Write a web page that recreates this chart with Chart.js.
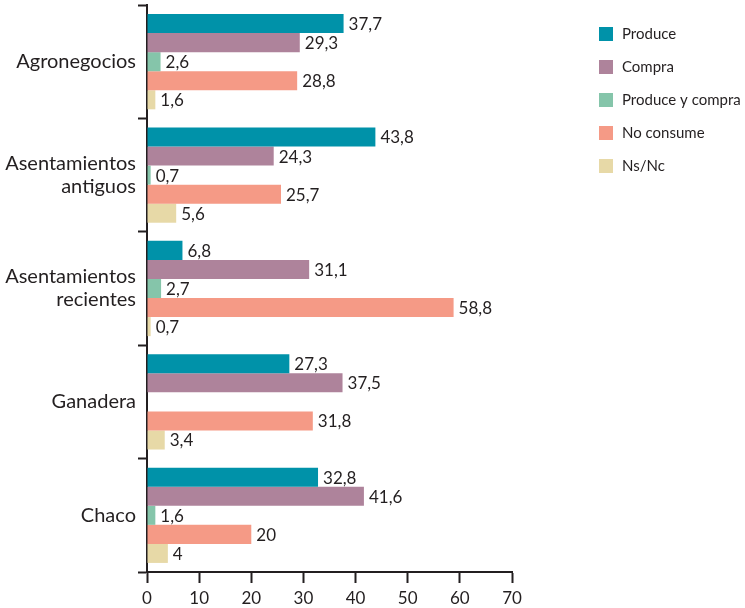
<!DOCTYPE html>
<html>
<head>
<meta charset="utf-8">
<script src="https://cdn.jsdelivr.net/npm/chart.js@4"></script>
<style>
  html, body { margin: 0; padding: 0; background: #fff; }
  #wrap { width: 745px; height: 608px; position: relative; }
</style>
</head>
<body>
<div id="wrap"><canvas id="grafico"></canvas></div>
<script>
const categorias = ['Agronegocios', ['Asentamientos', 'antiguos'], ['Asentamientos', 'recientes'], 'Ganadera', 'Chaco']
const series = ['Produce', 'Compra', 'Produce y compra', 'No consume', 'Ns/Nc']
const colores = ['#0092a9', '#ae839b', '#85c5aa', '#f59a86', '#e7d9a7']

const produce = [37.7, 43.8, 6.8, 27.3, 32.8]
const compra = [29.3, 24.3, 31.1, 37.5, 41.6]
const produceYCompra = [2.6, 0.7, 2.7, null, 1.6]
const noConsume = [28.8, 25.7, 58.8, 31.8, 20]
const nsNc = [1.6, 5.6, 0.7, 3.4, 4]

const ticksX = [0, 10, 20, 30, 40, 50, 60, 70]

const valores = [produce, compra, produceYCompra, noConsume, nsNc]
const colorTexto = '#231f20'
const fuente = 'Lato, "Noto Sans", sans-serif'

function formatear(v) {
  return String(v).replace('.', ',')
}

// etiquetas de valor al final de cada barra
const etiquetasPlugin = {
  id: 'etiquetas',
  afterDatasetsDraw(chart) {
    const ctx = chart.ctx
    ctx.save()
    ctx.font = `17px ${fuente}`
    ctx.fillStyle = colorTexto
    ctx.textBaseline = 'middle'
    ctx.textAlign = 'left'
    chart.data.datasets.forEach((ds, i) => {
      const meta = chart.getDatasetMeta(i)
      meta.data.forEach((bar, j) => {
        const v = ds.data[j]
        if (v === null || v === undefined) return
        ctx.fillText(formatear(v), bar.x + 5, bar.y + 1)
      })
    })
    ctx.restore()
  }
}

// leyenda a la derecha
const leyendaPlugin = {
  id: 'leyenda',
  afterDraw(chart) {
    const ctx = chart.ctx
    ctx.save()
    ctx.font = `15px ${fuente}`
    ctx.textBaseline = 'middle'
    chart.data.datasets.forEach((ds, i) => {
      const y = 34 + i * 33
      ctx.fillStyle = ds.backgroundColor
      ctx.fillRect(599, y - 7, 14, 14)
      ctx.fillStyle = colorTexto
      ctx.fillText(ds.label, 622, y)
    })
    ctx.restore()
  }
}

new Chart(document.getElementById('grafico'), {
  type: 'bar',
  data: {
    labels: categorias,
    datasets: series.map((nombre, i) => ({
      label: nombre,
      data: valores[i],
      backgroundColor: colores[i],
      borderWidth: 0,
      categoryPercentage: 0.84,
      barPercentage: 1
    }))
  },
  options: {
    indexAxis: 'y',
    responsive: true,
    maintainAspectRatio: false,
    animation: false,
    layout: { padding: { top: 5, right: 233, bottom: 0, left: 0 } },
    plugins: {
      legend: { display: false },
      tooltip: { enabled: false }
    },
    scales: {
      x: {
        min: 0,
        max: 70,
        afterBuildTicks: (s) => { s.ticks = ticksX.map((v) => ({ value: v })) },
        afterFit: (s) => { s.height = 36 },
        border: { color: colorTexto, width: 2 },
        grid: { drawOnChartArea: false, tickLength: 11, color: colorTexto, tickWidth: 2 },
        ticks: { color: colorTexto, font: { family: fuente, size: 17 }, padding: 5 }
      },
      y: {
        afterFit: (s) => {
          s.width = 147
          s.paddingTop = 0
          s.paddingBottom = 0
        },
        border: { color: colorTexto, width: 2 },
        grid: { offset: true, drawOnChartArea: false, tickLength: 9, color: colorTexto, tickWidth: 2 },
        ticks: { color: colorTexto, font: { family: fuente, size: 20, lineHeight: 1.15 }, padding: 2 }
      }
    }
  },
  plugins: [etiquetasPlugin, leyendaPlugin]
})
</script>
</body>
</html>
